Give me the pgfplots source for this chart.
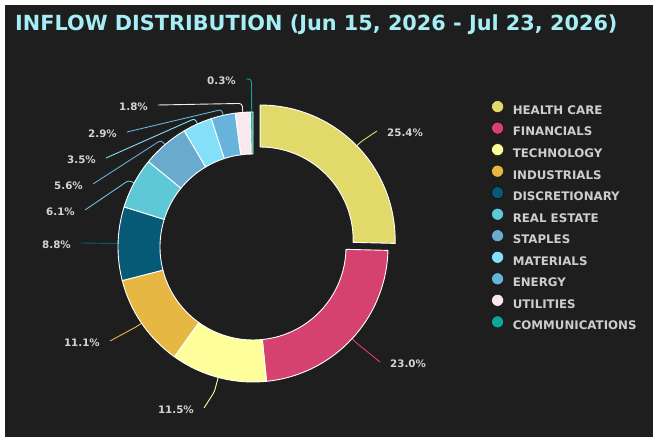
\documentclass[border=0pt]{standalone}
\usepackage{pgfplots}
\pgfplotsset{compat=1.18}
\usepackage{pgfplotstable}
\usepackage{fontspec}
\setmainfont{DejaVu Sans}

\definecolor{panel}{HTML}{1E1E1E}
\definecolor{titlecyan}{HTML}{A6EEF6}
\definecolor{labelgray}{HTML}{D4D4D4}
\definecolor{legendgray}{HTML}{CDCDCD}
\definecolor{chc}{HTML}{E2D96B}
\definecolor{cfin}{HTML}{D6426F}
\definecolor{ctech}{HTML}{FEFE9A}
\definecolor{cind}{HTML}{E6B843}
\definecolor{cdisc}{HTML}{075A75}
\definecolor{creal}{HTML}{5FC8D6}
\definecolor{cstap}{HTML}{6AAACD}
\definecolor{cmat}{HTML}{84DFF8}
\definecolor{cen}{HTML}{66B3DB}
\definecolor{cut}{HTML}{F9E9EE}
\definecolor{ccom}{HTML}{0EA69A}

% share in percent, slice colour, explode offset, connector knee length,
% connector end point and the side its label sits on
\pgfplotstableread[col sep=comma]{
sector,share,col,explode,knee,ex,ey,side
HEALTH CARE,25.4,chc,10,6,377,313,1
FINANCIALS,23.0,cfin,0,6,380,82,1
TECHNOLOGY,11.5,ctech,0,15,204,36,-1
INDUSTRIALS,11.1,cind,0,6,110,103,-1
DISCRETIONARY,8.8,cdisc,0,6,81,201,-1
REAL ESTATE,6.1,creal,0,6,85,234,-1
STAPLES,5.6,cstap,0,6,93,260,-1
MATERIALS,3.5,cmat,0,6,106,286,-1
ENERGY,2.9,cen,0,6,127,312,-1
UTILITIES,1.8,cut,0,9,158,339,-1
COMMUNICATIONS,0.3,ccom,0,33,246,365,-1
}\inflow

% ring centre and radii (axis units = bp)
\newcommand\ringx{253}
\newcommand\ringy{197}
\newcommand\Ro{135}
\newcommand\Ri{93}

\begin{document}
\begin{tikzpicture}
\begin{axis}[
  width=658bp, height=444bp, scale only axis,
  xmin=0, xmax=658, ymin=0, ymax=444,
  hide axis, clip=false,
  legend cell align=left,
  legend style={
    at={(axis cs:491.4,343.6)}, anchor=north west,
    draw=none, fill=none, inner sep=0pt, outer sep=0pt,
    font=\fontsize{11.8bp}{14bp}\selectfont\bfseries,
    text=legendgray,
    row sep=6.0bp,
    nodes={inner sep=0pt, outer sep=0pt},
    /tikz/every odd column/.append style={column sep=9.0bp},
  },
  legend image code/.code={\fill[#1] (6bp,4.2bp) circle (6bp);},
]
\fill[white] (axis cs:0,0) rectangle (axis cs:658,444);
\fill[panel] (axis cs:5,7) rectangle (axis cs:653,439);
\node[anchor=base west, text=titlecyan, inner sep=0pt,
      font=\fontsize{20.8bp}{26bp}\selectfont\bfseries]
  at (axis cs:15,413) {INFLOW DISTRIBUTION (Jun 15, 2026 - Jul 23, 2026)};

\def\cum{0}
\pgfplotsforeachungrouped \i in {0,...,10}{%
  \pgfplotstablegetelem{\i}{sector}\of\inflow \let\sname\pgfplotsretval
  \pgfplotstablegetelem{\i}{share}\of\inflow \let\sval\pgfplotsretval
  \pgfplotstablegetelem{\i}{col}\of\inflow \let\scol\pgfplotsretval
  \pgfplotstablegetelem{\i}{explode}\of\inflow \let\sexp\pgfplotsretval
  \pgfplotstablegetelem{\i}{knee}\of\inflow \let\sknee\pgfplotsretval
  \pgfplotstablegetelem{\i}{ex}\of\inflow \let\endx\pgfplotsretval
  \pgfplotstablegetelem{\i}{ey}\of\inflow \let\endy\pgfplotsretval
  \pgfplotstablegetelem{\i}{side}\of\inflow \let\sside\pgfplotsretval
  \pgfmathsetmacro\aone{90-3.6*\cum}%
  \pgfmathsetmacro\atwo{90-3.6*(\cum+\sval)}%
  \pgfmathsetmacro\amid{0.5*(\aone+\atwo)}%
  \pgfmathsetmacro\ox{\ringx+\sexp*cos(\amid)}%
  \pgfmathsetmacro\oy{\ringy+\sexp*sin(\amid)}%
  \pgfmathsetmacro\pax{\ox+\Ro*cos(\aone)}%
  \pgfmathsetmacro\pay{\oy+\Ro*sin(\aone)}%
  \pgfmathsetmacro\pbx{\ox+\Ri*cos(\atwo)}%
  \pgfmathsetmacro\pby{\oy+\Ri*sin(\atwo)}%
  \pgfmathsetmacro\sx{\ox+\Ro*cos(\amid)}%
  \pgfmathsetmacro\sy{\oy+\Ro*sin(\amid)}%
  \pgfmathsetmacro\kx{\ox+(\Ro+\sknee)*cos(\amid)}%
  \pgfmathsetmacro\ky{\oy+(\Ro+\sknee)*sin(\amid)}%
  \pgfmathsetmacro\lx{\endx+10*\sside}%
  \pgfmathsetmacro\ly{\endy-2}%
  \edef\anc{\ifnum\sside>0 west\else east\fi}%
  \edef\temp{%
    \noexpand\draw[\scol, line width=0.9bp, rounded corners=3bp]
      (axis cs:\sx,\sy) -- (axis cs:\kx,\ky) -- (axis cs:\endx,\endy);
    \noexpand\fill[\scol, draw=white, line width=0.9bp, line join=round]
      (axis cs:\pax,\pay) arc[start angle=\aone, end angle=\atwo, radius=\Ro bp]
      -- (axis cs:\pbx,\pby) arc[start angle=\atwo, end angle=\aone, radius=\Ri bp]
      -- cycle;
    \noexpand\node[anchor=\anc, text=labelgray, inner sep=0pt,
      font=\noexpand\fontsize{10.3bp}{13bp}\noexpand\selectfont\noexpand\bfseries]
      at (axis cs:\lx,\ly) {\sval\noexpand\%};
    \noexpand\addlegendimage{fill=\scol}
    \noexpand\addlegendentry{\sname}
  }\temp
  \pgfmathsetmacro\cum{\cum+\sval}%
}
\end{axis}
\end{tikzpicture}
\end{document}
